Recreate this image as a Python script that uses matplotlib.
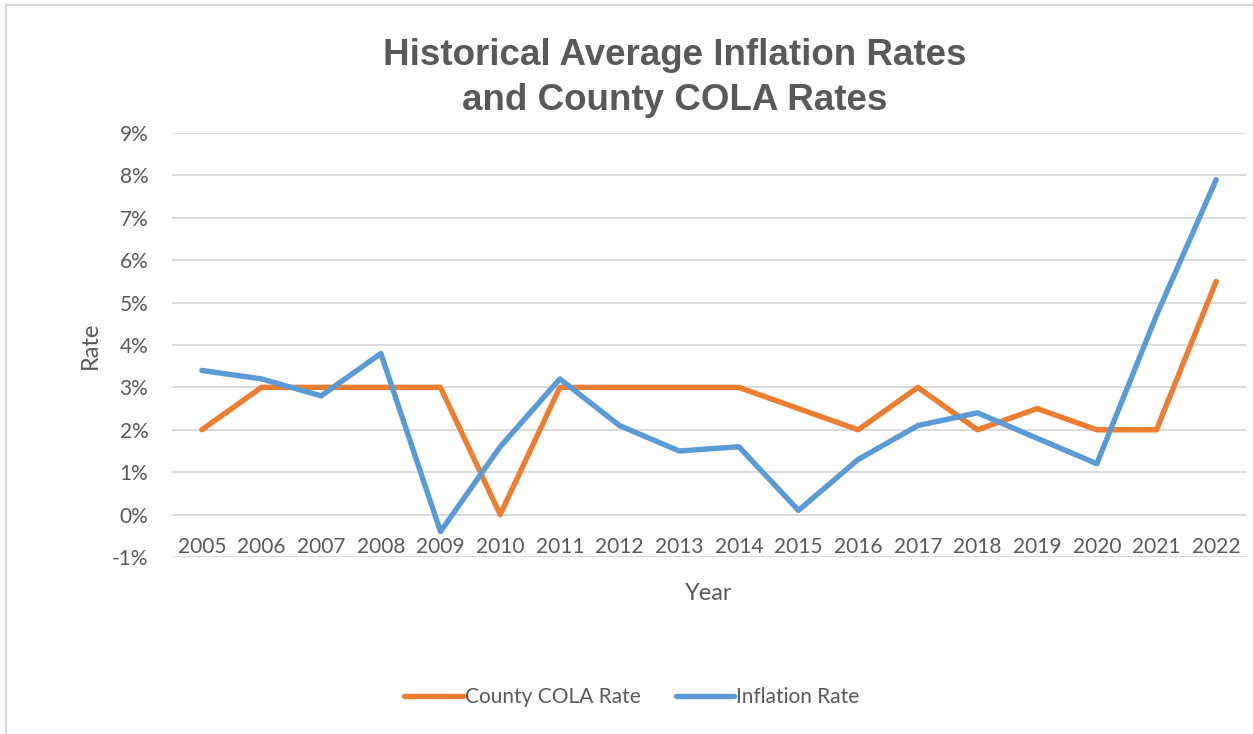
import matplotlib.pyplot as plt
from matplotlib.lines import Line2D
from matplotlib.ticker import FuncFormatter

years = [str(y) for y in range(2005, 2023)]
cola_rate = [2.0, 3.0, 3.0, 3.0, 3.0, 0.0, 3.0, 3.0, 3.0, 3.0, 2.5, 2.0, 3.0, 2.0, 2.5, 2.0, 2.0, 5.5]
inflation_rate = [3.4, 3.2, 2.8, 3.8, -0.4, 1.6, 3.2, 2.1, 1.5, 1.6, 0.1, 1.3, 2.1, 2.4, 1.8, 1.2, 4.7, 7.9]

text_color = '#595959'
grid_color = '#d9d9d9'
orange = '#ED7D31'
blue = '#5B9BD5'

plt.rcParams['font.family'] = ['Lato', 'DejaVu Sans']

fig = plt.figure(figsize=(12.53, 7.34), dpi=100)
ax = fig.add_axes([172 / 1253, 1 - 557 / 734, (1246 - 172) / 1253, (557 - 133) / 734])

x = list(range(len(years)))
ax.plot(x, cola_rate, color=orange, lw=3.9, solid_capstyle='round', solid_joinstyle='round',
        label='County COLA Rate')
ax.plot(x, inflation_rate, color=blue, lw=3.9, solid_capstyle='round', solid_joinstyle='round',
        label='Inflation Rate')

ax.set_xlim(-0.5, len(years) - 0.5)
ax.set_ylim(-1, 9)
ax.set_yticks(range(-1, 10))
ax.yaxis.set_major_formatter(FuncFormatter(lambda v, p: f'{v:.0f}%'))
ax.grid(axis='y', color=grid_color, lw=1.3)
ax.set_axisbelow(True)

for s in ['top', 'right', 'left']:
    ax.spines[s].set_visible(False)
ax.spines['bottom'].set_position(('data', 0))
ax.spines['bottom'].set_visible(False)

ax.set_xticks(x)
ax.set_xticklabels(years)
ax.tick_params(axis='x', length=0, pad=16, labelsize=15, labelcolor=text_color)
ax.tick_params(axis='y', length=0, pad=17, labelsize=15, labelcolor=text_color)

fig.text(90 / 1253, 1 - 345 / 734, 'Rate', rotation=90, ha='center', va='center',
         fontsize=17, color=text_color)
fig.text(709 / 1253, 1 - 593 / 734, 'Year', ha='center', va='center',
         fontsize=17, color=text_color)

fig.text(675 / 1253, 1 - 78 / 734, 'Historical Average Inflation Rates\nand County COLA Rates',
         ha='center', va='center', fontsize=26.5, fontweight='bold', color=text_color,
         family='Liberation Sans', linespacing=1.35)

fig.legend(loc='center', bbox_to_anchor=(632 / 1253, 1 - 697 / 734), ncol=2, frameon=False,
           fontsize=15, labelcolor=text_color, handlelength=2.8, handletextpad=0.1,
           columnspacing=1.7)

# chart frame, only top and left edges visible in the crop
fig.add_artist(Line2D([6 / 1253, 1], [1 - 5 / 734, 1 - 5 / 734], color=grid_color, lw=1.5))
fig.add_artist(Line2D([6 / 1253, 6 / 1253], [0, 1 - 5 / 734], color=grid_color, lw=1.5))

fig.savefig('out.png', dpi=100)
